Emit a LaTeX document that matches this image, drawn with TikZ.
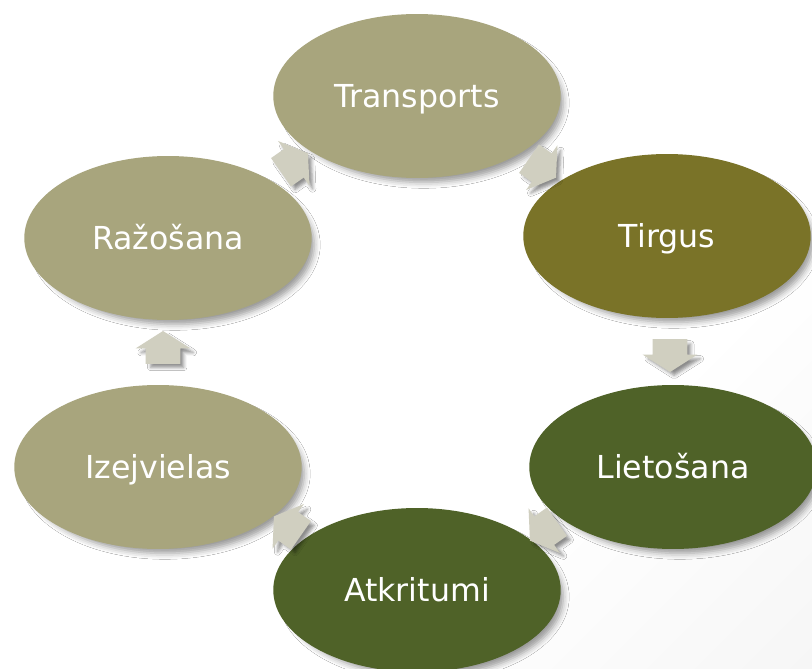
\documentclass[tikz,border=0pt]{standalone}
\usepackage{fontspec}
\setmainfont{DejaVu Sans}
\usetikzlibrary{shapes.geometric,shapes.arrows,shadows.blur}
\definecolor{cyclight}{HTML}{A8A57D}
\definecolor{cycolive}{HTML}{7A7328}
\definecolor{cycdark}{HTML}{4F6228}
\definecolor{cycarrow}{HTML}{D0CFC0}
\pgfdeclareverticalshading{pagecorner}{100bp}{color(0bp)=(black!6); color(35bp)=(white); color(100bp)=(white)}

\begin{document}
\begin{tikzpicture}[x=0.02cm, y=-0.02cm,
      cyc/.style={ellipse, minimum width=5.75cm, minimum height=3.28cm, inner sep=0pt,
      text=white, font=\fontsize{18}{20}\selectfont, text height=13pt, text depth=0pt,
      blur shadow={shadow xshift=4pt, shadow yshift=-4pt, shadow blur radius=3.5pt,
      shadow scale=0.97, shadow opacity=40}},
      arr/.style={single arrow, fill=cycarrow, minimum height=0.66cm, inner xsep=0pt,
      inner ysep=0.34cm, single arrow head extend=0.2cm, single arrow tip angle=115,
      blur shadow={shadow xshift=2.5pt, shadow yshift=-2.5pt, shadow blur radius=2pt,
      shadow scale=0.95, shadow opacity=45}}]
    % page
    \path[use as bounding box, shading=pagecorner, shading angle=45] (0,0) rectangle (812,669);
    % stages
    \node[cyc, fill=cyclight] (transp) at (417,96) {Transports};
    \node[cyc, fill=cycolive] (tirgus) at (667,236) {Tirgus};
    \node[cyc, fill=cycdark] (lieto) at (673,467) {Lietošana};
    \node[cyc, fill=cycdark] (atkr) at (417,590) {Atkritumi};
    \node[cyc, fill=cyclight] (izejv) at (158,467) {Izejvielas};
    \node[cyc, fill=cyclight] (razo) at (168,238) {Ražošana};
    % arrows between stages
    \node[arr, rotate=35] (a1) at (290,166) {};
    \node[arr, rotate=-35] (a2) at (538,165) {};
    \node[arr, rotate=-90] (a3) at (670,350) {};
    \node[arr, rotate=-145] (a4) at (548,528) {};
    \node[arr, rotate=145] (a5) at (292,529) {};
    \node[arr, rotate=90] (a6) at (163,353) {};
  \end{tikzpicture}
\end{document}
